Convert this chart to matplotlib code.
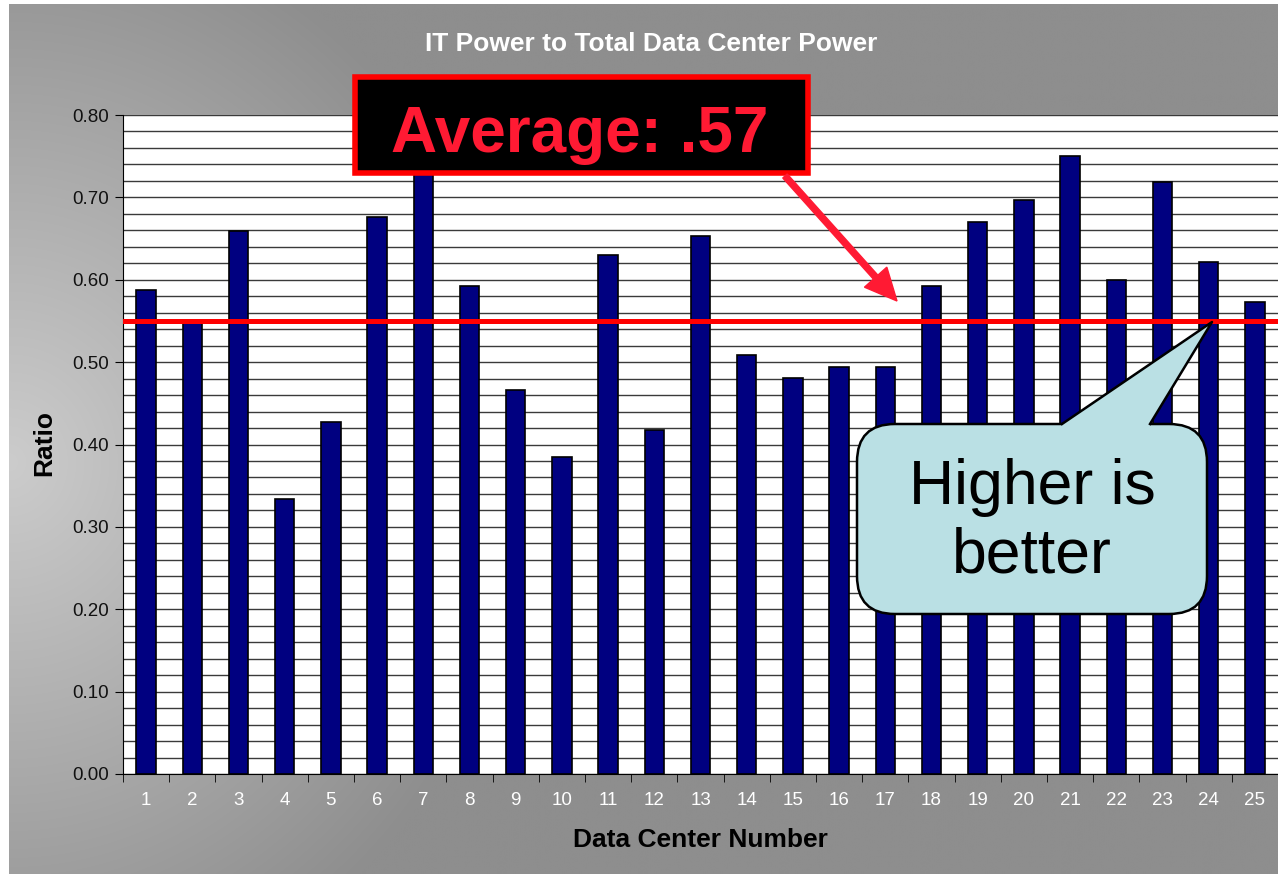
import numpy as np
import matplotlib
matplotlib.use('Agg')
import matplotlib.pyplot as plt
from matplotlib.patches import FancyBboxPatch, Polygon, Rectangle, FancyArrow
from matplotlib.ticker import MultipleLocator, FormatStrFormatter

plt.rcParams['font.family'] = ['Liberation Sans', 'DejaVu Sans']

# --- datos ---
centers = list(range(1, 26))
ratios = [0.587, 0.550, 0.659, 0.334, 0.427, 0.676, 0.740, 0.592, 0.466, 0.385,
          0.630, 0.418, 0.653, 0.509, 0.481, 0.494, 0.494, 0.592, 0.670, 0.697,
          0.750, 0.600, 0.719, 0.621, 0.573]
average_line = 0.55
title = "IT Power to Total Data Center Power"
xlabel = "Data Center Number"
ylabel = "Ratio"
avg_text = "Average: .57"
note_text = "Higher is\nbetter"

W, H = 1278, 874
fig = plt.figure(figsize=(W / 100, H / 100), dpi=100, facecolor='white')

# fondo gris con degradado (claro a la izquierda)
bg = fig.add_axes([0, 0, 1, 1])
bg.set_xlim(0, W)
bg.set_ylim(H, 0)
bg.axis('off')
yy, xx = np.mgrid[0:H, 0:W]
r = np.sqrt((xx / 520.0) ** 2 + ((yy - 460) / 560.0) ** 2)
shade = (142 + 62 * np.clip(1 - r, 0, 1)) / 255.0
img = np.dstack([shade, shade, shade])
bg.imshow(img, extent=(9, W, H, 4), aspect='auto', interpolation='bilinear')

# --- grafico ---
ax = fig.add_axes([123 / W, 100 / H, (W - 123) / W, 659 / H])
ax.set_facecolor('white')
ax.bar(centers, ratios, width=0.42, color='#000080', edgecolor='black', linewidth=1.2, zorder=3)
ax.axhline(average_line, color='#ff0000', linewidth=3.6, zorder=4)

ax.set_xlim(0.5, 25.5)
ax.set_ylim(0, 0.8)
ax.yaxis.set_major_locator(MultipleLocator(0.1))
ax.yaxis.set_minor_locator(MultipleLocator(0.02))
ax.yaxis.set_major_formatter(FormatStrFormatter('%.2f'))
ax.set_xticks(centers)
ax.set_xticks(np.arange(0.5, 26, 1), minor=True)
ax.grid(True, axis='y', which='both', color='#3a3a3a', linewidth=1.0, zorder=0)
ax.set_axisbelow(True)

ax.tick_params(axis='y', which='major', direction='out', length=6, color='black',
               labelsize=13.5, labelcolor='#111111', pad=4)
ax.tick_params(axis='y', which='minor', length=0)
ax.tick_params(axis='x', which='major', length=0, labelsize=13.5, labelcolor='white', pad=13)
ax.tick_params(axis='x', which='minor', direction='out', length=6, color='black')

for s in ['top', 'right']:
    ax.spines[s].set_visible(False)
ax.spines['left'].set_color('black')
ax.spines['bottom'].set_color('black')

# titulos
fig.text(651 / W, 1 - 44 / H, title, color='white', fontsize=19, fontweight='bold',
         ha='center', va='center')
fig.text(700 / W, 1 - 840 / H, xlabel, color='black', fontsize=19, fontweight='bold',
         ha='center', va='center')
fig.text(44 / W, 1 - 443 / H, ylabel, color='black', fontsize=19, fontweight='bold',
         ha='center', va='center', rotation=90)

# --- anotaciones (coordenadas en pixeles) ---
ov = fig.add_axes([0, 0, 1, 1])
ov.set_xlim(0, W)
ov.set_ylim(H, 0)
ov.axis('off')
ov.patch.set_alpha(0)

ov.add_patch(Rectangle((355, 77), 453, 96, facecolor='black', edgecolor='#ff0000', linewidth=4, zorder=5))
ov.text(391, 152, avg_text, color='#ff1a33', fontsize=46, fontweight='bold',
        ha='left', va='baseline', zorder=6)

ov.add_patch(FancyArrow(785, 176, 112, 125, width=6, head_width=30, head_length=32,
                        length_includes_head=True, color='#ff1a33', zorder=6))

# globo "Higher is better"
fill = '#bae0e4'
ov.add_patch(FancyBboxPatch((857, 424), 350, 190, boxstyle='round,pad=0,rounding_size=38',
                            facecolor=fill, edgecolor='black', linewidth=1.8, zorder=5))
tip = (1212, 322)
bl = (1062, 424)
br = (1150, 424)
ov.add_patch(Polygon([bl, tip, br, (br[0], 428), (bl[0], 428)], closed=True,
                     facecolor=fill, edgecolor='none', zorder=6))
ov.plot([bl[0], tip[0], br[0]], [bl[1], tip[1], br[1]], color='black', linewidth=1.8, zorder=7)
ov.text(1032, 522, note_text, color='black', fontsize=45, ha='center', va='center',
        linespacing=1.2, zorder=8)

fig.savefig('out.png', dpi=100, facecolor=fig.get_facecolor())
